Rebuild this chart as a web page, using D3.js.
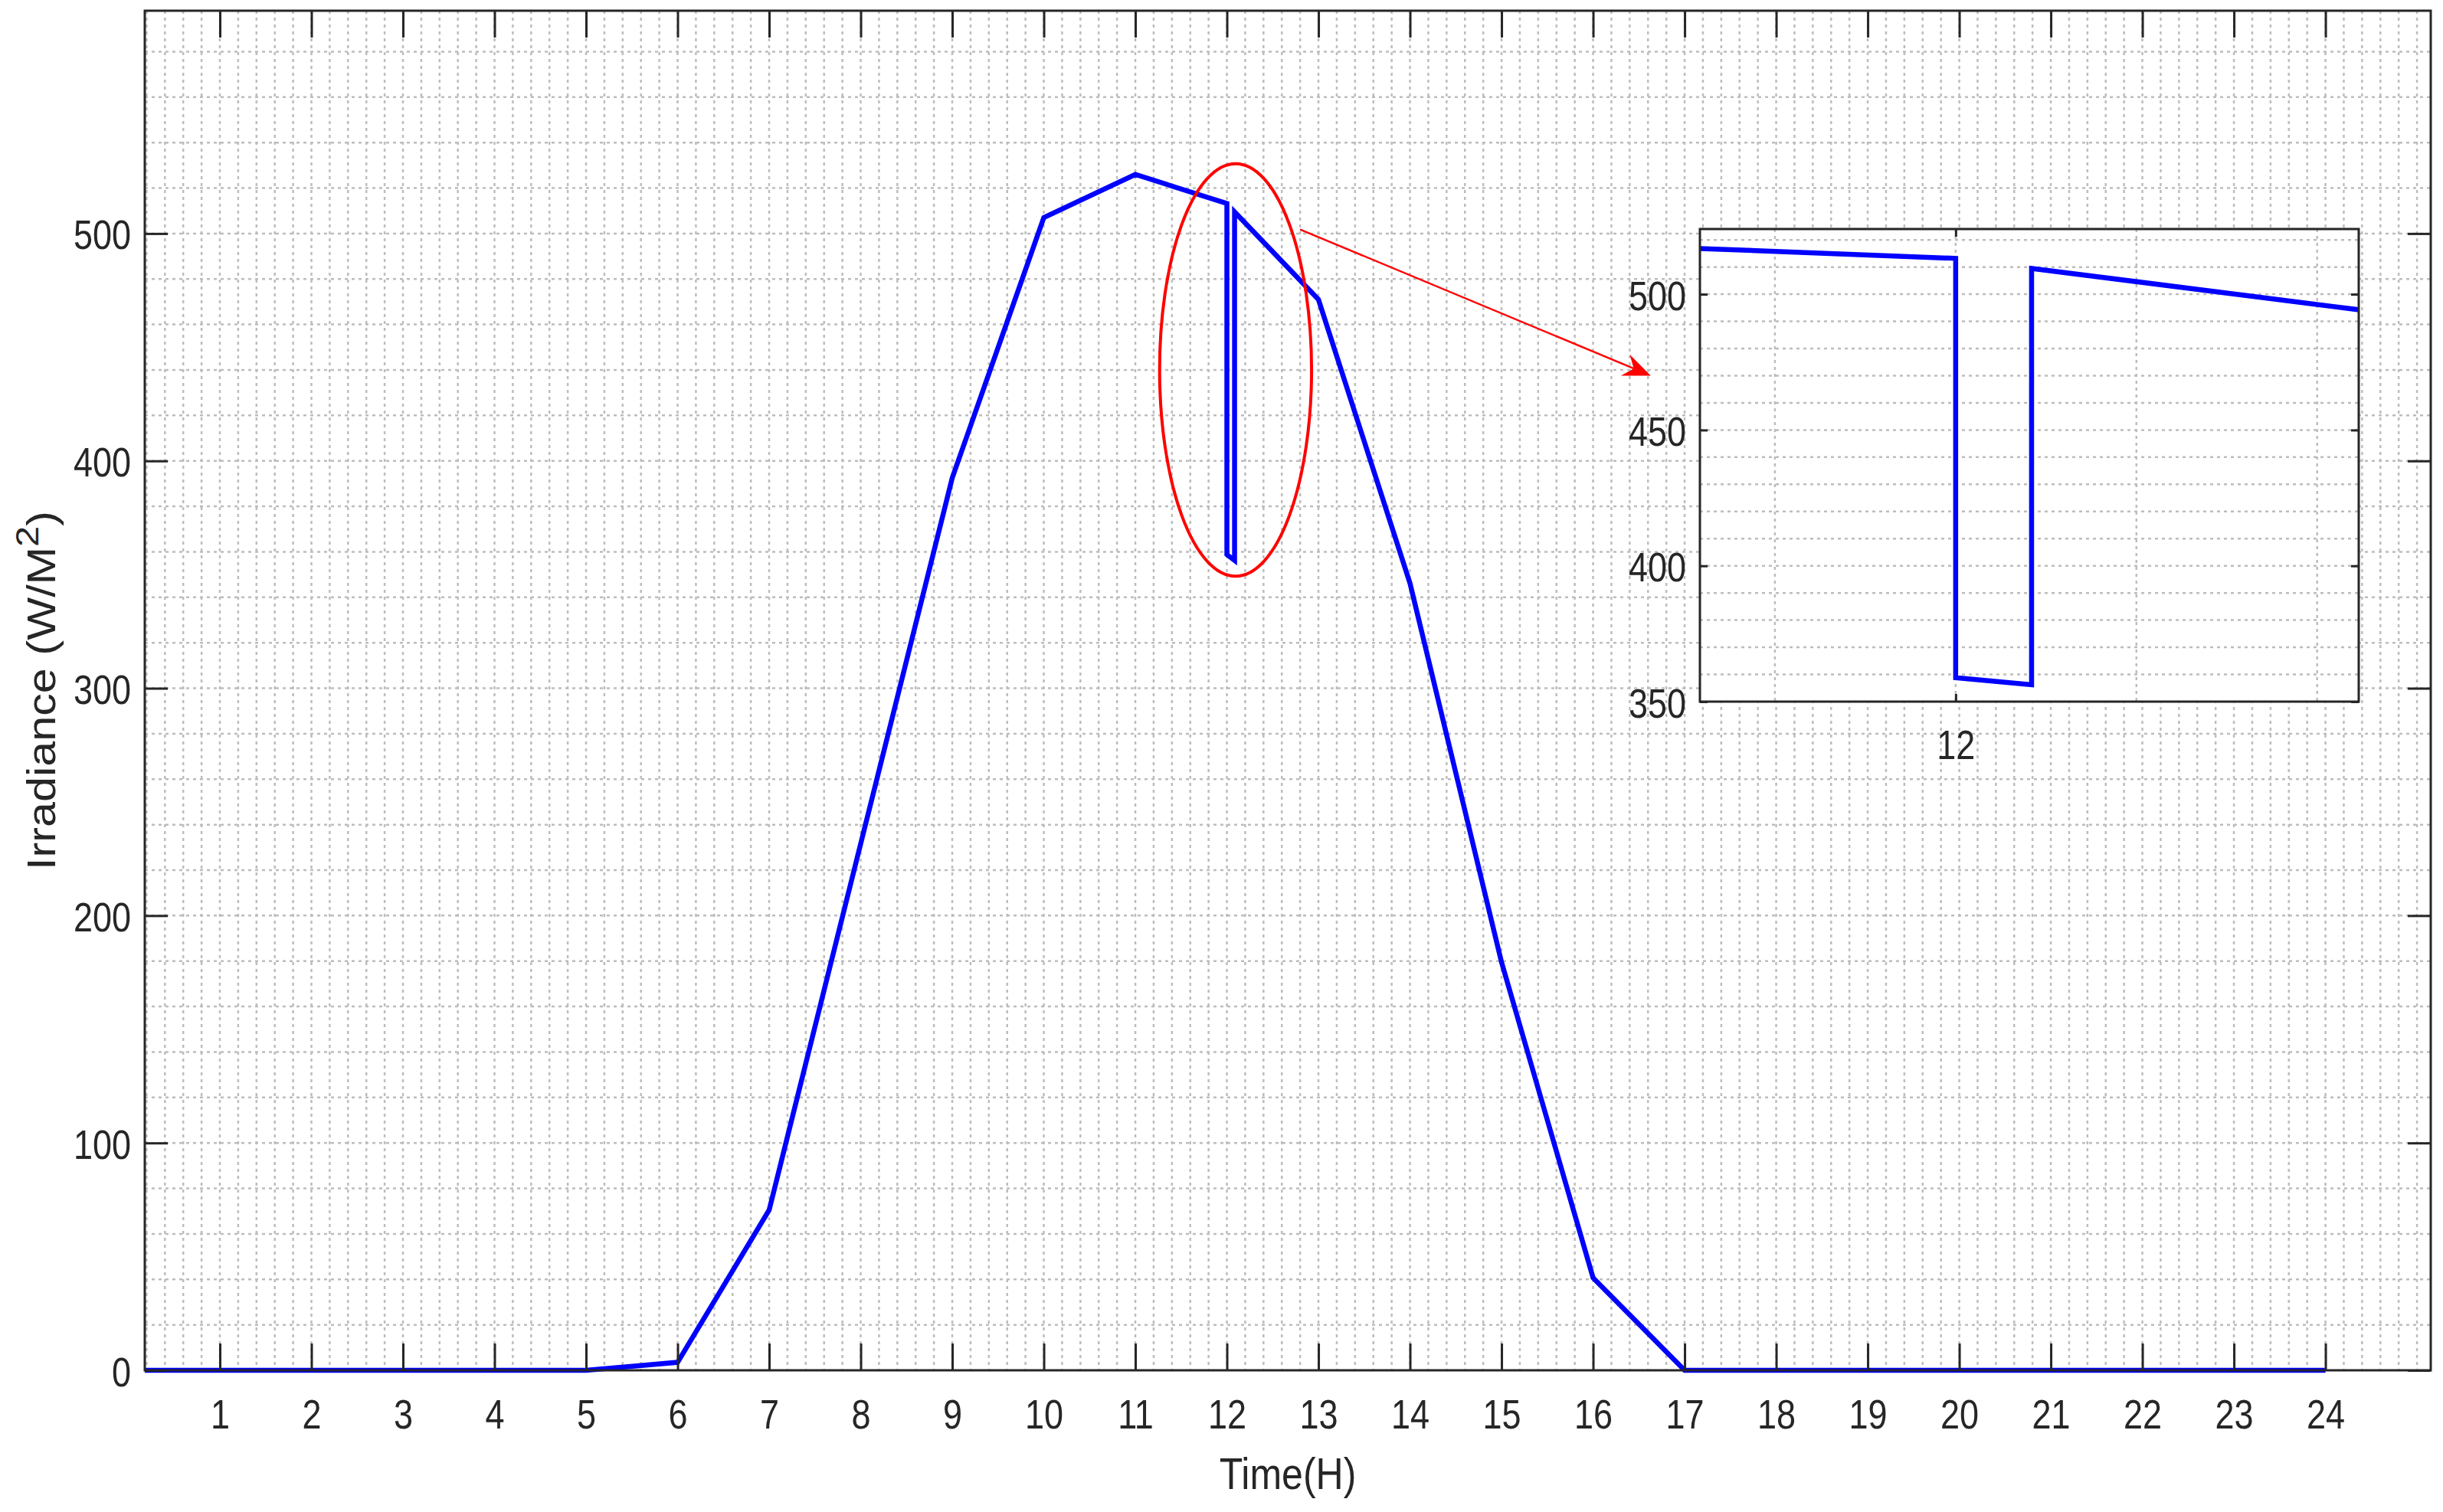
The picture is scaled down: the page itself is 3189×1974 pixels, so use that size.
<!DOCTYPE html>
<html>
<head>
<meta charset="utf-8">
<script src="https://cdn.jsdelivr.net/npm/d3@7"></script>
<style>
html, body { margin: 0; padding: 0; background: #fff; }
svg { display: block; }
</style>
</head>
<body>
<svg width="3189" height="1974"></svg>
<script>
// Dati: ora del giorno e irraggiamento (W/m2)
const hours      = [0, 1, 2, 3, 4, 5, 6, 7, 8, 9, 10, 11, 12, 12, 12.084, 12.084, 13, 14, 15, 16, 17, 18, 19, 20, 21, 22, 23, 24];
const irradiance = [0, 0, 0, 0, 0, 0, 3.5, 70.5, 231.6, 392.5, 507, 526, 513.2, 358.8, 356.2, 509.5, 471, 346.2, 179.5, 40.7, 0, 0, 0, 0, 0, 0, 0, 0];

const xTicks = [1, 2, 3, 4, 5, 6, 7, 8, 9, 10, 11, 12, 13, 14, 15, 16, 17, 18, 19, 20, 21, 22, 23, 24];
const yTicks = [0, 100, 200, 300, 400, 500];
const zoomXTicks = [12];
const zoomYTicks = [350, 400, 450, 500];

const xLabel = 'Time(H)';
const yLabel = 'Irradiance (W/M';

// ellisse e freccia (in coordinate dei dati)
const ellipseCenter = [12.095, 440];
const ellipseRadius = [0.83, 90.7];
const arrowFrom = [12.80, 501.8];
const arrowTo = [16.63, 437.5];

const ink = '#262626';
const font = "'Liberation Sans', Arial, sans-serif";
const SY = 1.2; // il grafico originale e' stirato in verticale

const svg = d3.select('svg');
svg.append('rect').attr('width', 3189).attr('height', 1974).attr('fill', '#fff');

const plot = {left: 189, right: 3173, top: 14, bottom: 1789};

const x = d3.scaleLinear().domain([0.18, 25.15]).range([plot.left, plot.right]);
const y = d3.scaleLinear().domain([0, 598]).range([plot.bottom, plot.top]);

// griglia tratteggiata
function grid(g, xs, ys, xVals, yVals, box) {
	g.selectAll('line.gx')
		.data(xVals)
		.enter()
		.append('line')
		.attr('x1', d => xs(d)).attr('x2', d => xs(d))
		.attr('y1', box.top).attr('y2', box.bottom)
		.attr('stroke', '#bdbdbd')
		.attr('stroke-width', 2.5)
		.attr('stroke-dasharray', '4,5');
	g.selectAll('line.gy')
		.data(yVals)
		.enter()
		.append('line')
		.attr('y1', d => ys(d)).attr('y2', d => ys(d))
		.attr('x1', box.left).attr('x2', box.right)
		.attr('stroke', '#bdbdbd')
		.attr('stroke-width', 2.5)
		.attr('stroke-dasharray', '4,5');
}

const mainGrid = svg.append('g');
grid(mainGrid, x, y,
	d3.range(1, 126).map(i => i * 0.2).filter(v => x(v) > plot.left + 2 && x(v) < plot.right - 2),
	d3.range(1, 30).map(i => i * 20),
	plot);

svg.append('clipPath').attr('id', 'clipMain')
	.append('rect')
	.attr('x', plot.left).attr('y', plot.top - 10)
	.attr('width', plot.right - plot.left).attr('height', plot.bottom - plot.top + 20);

const series = d3.zip(hours, irradiance);

const line = d3.line()
	.x(d => x(d[0]))
	.y(d => y(d[1]));

svg.append('path')
	.datum(series)
	.attr('clip-path', 'url(#clipMain)')
	.attr('d', line)
	.attr('fill', 'none')
	.attr('stroke', '#0000ff')
	.attr('stroke-width', 6.5)
	.attr('stroke-linejoin', 'miter');

// assi
function styleAxis(g) {
	g.attr('font-family', font).attr('font-size', 45);
	g.select('.domain').remove();
	g.selectAll('.tick line').attr('stroke', ink).attr('stroke-width', 3);
	g.selectAll('.tick text').attr('fill', ink);
}

const bottomAxis = svg.append('g')
	.attr('transform', `translate(0,${plot.bottom})`)
	.call(d3.axisBottom(x).tickValues(xTicks).tickSize(-35).tickFormat(d3.format('d')))
	.call(styleAxis);
bottomAxis.selectAll('.tick text')
	.attr('y', null).attr('dy', null)
	.attr('transform', `translate(0,76) scale(1,${SY})`);

const leftAxis = svg.append('g')
	.attr('transform', `translate(${plot.left},0)`)
	.call(d3.axisLeft(y).tickValues(yTicks).tickSize(-30).tickFormat(d3.format('d')))
	.call(styleAxis);
leftAxis.selectAll('.tick text')
	.attr('x', null).attr('dy', null)
	.attr('text-anchor', 'end')
	.attr('transform', `translate(-18,20) scale(1,${SY})`);

svg.append('g')
	.attr('transform', `translate(0,${plot.top})`)
	.call(d3.axisTop(x).tickValues(xTicks).tickSize(-35).tickFormat(''))
	.call(styleAxis);

svg.append('g')
	.attr('transform', `translate(${plot.right},0)`)
	.call(d3.axisRight(y).tickValues(yTicks).tickSize(-30).tickFormat(''))
	.call(styleAxis);

svg.append('rect')
	.attr('x', plot.left).attr('y', plot.top)
	.attr('width', plot.right - plot.left).attr('height', plot.bottom - plot.top)
	.attr('fill', 'none')
	.attr('stroke', ink)
	.attr('stroke-width', 3);

// etichette assi
svg.append('text')
	.attr('transform', `translate(${(plot.left + plot.right) / 2},1944) scale(1,${SY * 0.97})`)
	.attr('text-anchor', 'middle')
	.attr('font-family', font)
	.attr('font-size', 50)
	.attr('fill', ink)
	.text(xLabel);

const yl = svg.append('text')
	.attr('transform', `translate(72,${(plot.top + plot.bottom) / 2}) rotate(-90) scale(${SY * 0.97},1)`)
	.attr('text-anchor', 'middle')
	.attr('font-family', font)
	.attr('font-size', 51)
	.attr('fill', ink);
yl.append('tspan').text(yLabel);
yl.append('tspan').attr('font-size', 42).attr('dy', -22).text('2');
yl.append('tspan').attr('dy', 22).text(')');

// ellisse rossa
svg.append('ellipse')
	.attr('cx', x(ellipseCenter[0]))
	.attr('cy', y(ellipseCenter[1]))
	.attr('rx', x(ellipseCenter[0] + ellipseRadius[0]) - x(ellipseCenter[0]))
	.attr('ry', y(ellipseCenter[1] - ellipseRadius[1]) - y(ellipseCenter[1]))
	.attr('fill', 'none')
	.attr('stroke', '#ff0000')
	.attr('stroke-width', 4);

// freccia
const ax1 = x(arrowFrom[0]), ay1 = y(arrowFrom[1]);
const ax2 = x(arrowTo[0]), ay2 = y(arrowTo[1]);
const len = Math.hypot(ax2 - ax1, ay2 - ay1);
const ux = (ax2 - ax1) / len, uy = (ay2 - ay1) / len;
const nx = -uy, ny = ux;
const headL = 36, headW = 15, notch = 12;
svg.append('line')
	.attr('x1', ax1).attr('y1', ay1)
	.attr('x2', ax2 - (headL - notch) * ux).attr('y2', ay2 - (headL - notch) * uy)
	.attr('stroke', '#ff0000')
	.attr('stroke-width', 2.5);
svg.append('path')
	.attr('d', `M${ax2},${ay2} L${ax2 - headL * ux + headW * nx},${ay2 - headL * uy + headW * ny} ` +
		`L${ax2 - (headL - notch) * ux},${ay2 - (headL - notch) * uy} ` +
		`L${ax2 - headL * ux - headW * nx},${ay2 - headL * uy - headW * ny} Z`)
	.attr('fill', '#ff0000');

// riquadro di zoom
const inset = {left: 2219, right: 3079, top: 299, bottom: 916};
const xi = d3.scaleLinear().domain([11.717, 12.446]).range([inset.left, inset.right]);
const yi = d3.scaleLinear().domain([350, 524]).range([inset.bottom, inset.top]);

const ig = svg.append('g');
ig.append('rect')
	.attr('x', inset.left).attr('y', inset.top)
	.attr('width', inset.right - inset.left).attr('height', inset.bottom - inset.top)
	.attr('fill', '#fff');

grid(ig, xi, yi, [11.8, 12, 12.2, 12.4], d3.range(36, 53).map(v => v * 10), inset);

ig.append('clipPath').attr('id', 'clipInset')
	.append('rect')
	.attr('x', inset.left).attr('y', inset.top)
	.attr('width', inset.right - inset.left).attr('height', inset.bottom - inset.top);

ig.append('path')
	.datum(series)
	.attr('clip-path', 'url(#clipInset)')
	.attr('d', d3.line().x(d => xi(d[0])).y(d => yi(d[1])))
	.attr('fill', 'none')
	.attr('stroke', '#0000ff')
	.attr('stroke-width', 6.5);

const ib = ig.append('g')
	.attr('transform', `translate(0,${inset.bottom})`)
	.call(d3.axisBottom(xi).tickValues(zoomXTicks).tickSize(-10).tickFormat(d3.format('d')))
	.call(styleAxis);
ib.selectAll('.tick text')
	.attr('y', null).attr('dy', null)
	.attr('transform', `translate(0,75) scale(1,${SY})`);

const il = ig.append('g')
	.attr('transform', `translate(${inset.left},0)`)
	.call(d3.axisLeft(yi).tickValues(zoomYTicks).tickSize(-10).tickFormat(d3.format('d')))
	.call(styleAxis);
il.selectAll('.tick text')
	.attr('x', null).attr('dy', null)
	.attr('text-anchor', 'end')
	.attr('transform', `translate(-18,20) scale(1,${SY})`);

ig.append('g')
	.attr('transform', `translate(0,${inset.top})`)
	.call(d3.axisTop(xi).tickValues(zoomXTicks).tickSize(-10).tickFormat(''))
	.call(styleAxis);

ig.append('g')
	.attr('transform', `translate(${inset.right},0)`)
	.call(d3.axisRight(yi).tickValues(zoomYTicks).tickSize(-10).tickFormat(''))
	.call(styleAxis);

ig.append('rect')
	.attr('x', inset.left).attr('y', inset.top)
	.attr('width', inset.right - inset.left).attr('height', inset.bottom - inset.top)
	.attr('fill', 'none')
	.attr('stroke', ink)
	.attr('stroke-width', 3);
</script>
</body>
</html>
